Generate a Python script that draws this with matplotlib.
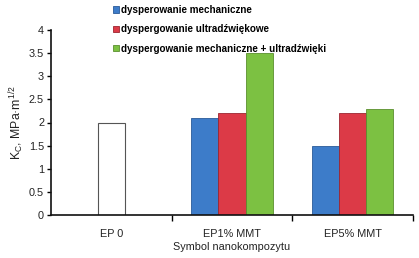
import matplotlib
matplotlib.use("Agg")
import matplotlib.pyplot as plt
import numpy as np

categories = ["EP 0", "EP1% MMT", "EP5% MMT"]
ep0_value = [2.0]
series_names = ["dysperowanie mechaniczne",
                "dyspergowanie ultradźwiękowe",
                "dyspergowanie mechaniczne + ultradźwięki"]
series_values = [
    [2.1, 1.5],
    [2.2, 2.2],
    [3.5, 2.3],
]
colors = ["#3d7cc9", "#dc3a47", "#7cc142"]
edge_colors = ["#2a5a98", "#9c2530", "#5a8f2e"]
yticks = [0, 0.5, 1, 1.5, 2, 2.5, 3, 3.5, 4]

plt.rcParams['font.family'] = ['Liberation Sans', 'DejaVu Sans']

fig = plt.figure(figsize=(4.19, 2.58), dpi=100)
ax = fig.add_axes([51/419, 1-215/258, (413-51)/419, (215-30)/258])

x = np.arange(len(categories))
w = 0.225
ax.bar(x[0], ep0_value[0], width=w, color="white", edgecolor="#555555", linewidth=0.8)
for i, (vals, c, ec) in enumerate(zip(series_values, colors, edge_colors)):
    ax.bar(x[1:] + (i-1)*w, vals, width=w, color=c, edgecolor=ec, linewidth=0.6,
           label=series_names[i])

ax.set_xlim(-0.5, 2.5)
ax.set_ylim(0, 4)
ax.set_yticks(yticks)
ax.set_yticklabels([f"{t:g}" for t in yticks], fontsize=7.8, color="#222222")
ax.set_xticks(x)
ax.set_xticklabels(categories, fontsize=7.8, color="#222222")
ax.set_xticks([0.5, 1.5, 2.5], minor=True)
ax.tick_params(axis='x', which='major', length=0, pad=10)
ax.tick_params(axis='x', which='minor', length=4, width=1, direction='out')
ax.tick_params(axis='y', length=3, width=1, direction='out', pad=2)
for s in ["top", "right"]:
    ax.spines[s].set_visible(False)
for s in ["left", "bottom"]:
    ax.spines[s].set_linewidth(1.2)
    ax.spines[s].set_color("#111111")

ax.set_xlabel("Symbol nanokompozytu", fontsize=7.8, color="#222222", labelpad=2)
ax.set_ylabel(r"K$_\mathregular{C}$, MPa·m$^\mathregular{1/2}$", fontsize=8.8, color="#222222", labelpad=2)

leg = ax.legend(loc="upper left", bbox_to_anchor=(108/419, 1.0), bbox_transform=fig.transFigure,
                frameon=False, prop={'size': 7.1, 'weight': 'bold'},
                handlelength=0.65, handleheight=0.65, handletextpad=0.2,
                labelspacing=0.95, borderaxespad=0.25, borderpad=0.25)

fig.savefig("out.png", dpi=100)
